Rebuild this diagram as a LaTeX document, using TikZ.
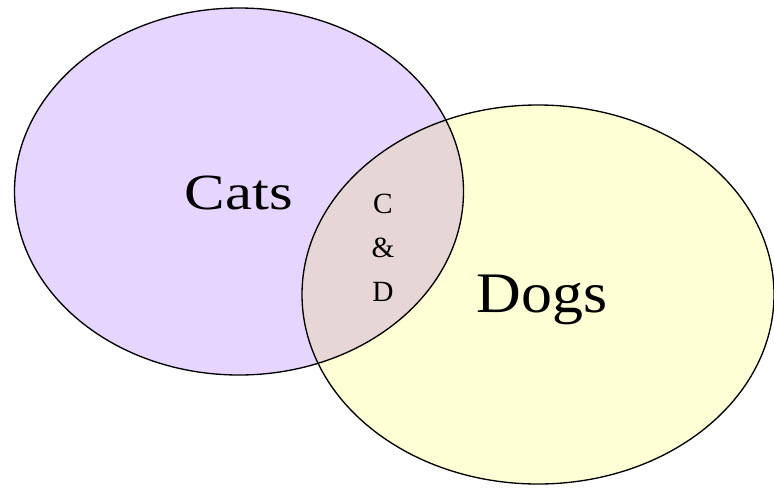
\documentclass[tikz,border=0pt]{standalone}
\usepackage{fontspec}
\setmainfont{Liberation Serif}
\definecolor{catsfill}{RGB}{229,213,255}
\definecolor{dogsfill}{RGB}{255,255,214}
\definecolor{bothfill}{RGB}{230,214,214}
\tikzset{every picture/.style={line width=1pt}}
\tikzset{
  setlabel/.style={inner sep=0.75pt, align=center},
}

\begin{document}
\begin{tikzpicture}[x=0.75pt,y=0.75pt,yscale=-1,xscale=1]
\useasboundingbox (0,0) rectangle (774,490);

\coordinate (catsc) at (239,191.5);
\coordinate (dogsc) at (538,294.5);

%Shape: Ellipse (cats)
\fill [catsfill] (catsc) ellipse (224.5 and 183.5);
%Shape: Ellipse (dogs)
\fill [dogsfill] (dogsc) ellipse (236 and 189.5);
%Shape: overlap of both
\begin{scope}
  \clip (catsc) ellipse (224.5 and 183.5);
  \fill [bothfill] (dogsc) ellipse (236 and 189.5);
\end{scope}
%Outlines
\draw (catsc) ellipse (224.5 and 183.5);
\draw (dogsc) ellipse (236 and 189.5);

% Text Node
\node (cats) [setlabel, xscale=1.2, font=\fontsize{38}{40}\selectfont] at (239,193) {Cats};
% Text Node
\node (dogs) [setlabel, xscale=1.08, font=\fontsize{43}{45}\selectfont] at (542,300) {Dogs};
% Text Node
\node (both) [setlabel, font=\fontsize{22}{33}\selectfont] at (383,248) {C\\\&\\D};

\end{tikzpicture}
\end{document}
